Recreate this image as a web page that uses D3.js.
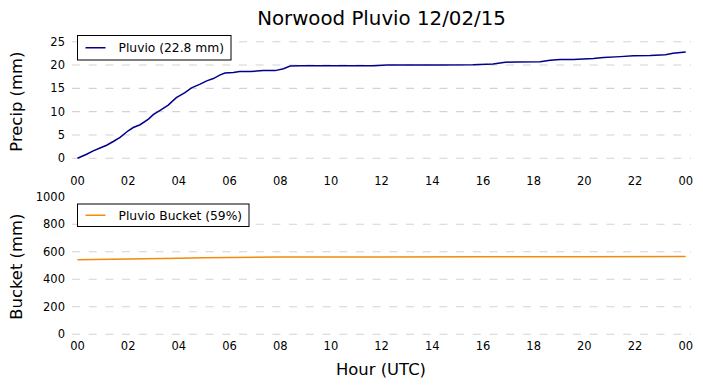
<!DOCTYPE html>
<html><head><meta charset="utf-8">
<script src="https://cdn.jsdelivr.net/npm/d3@7"></script>
<style>body{margin:0;background:#fff}svg{display:block;font-family:"DejaVu Sans",sans-serif}</style>
</head><body><div id="c"></div>
<script>
const title = "Norwood Pluvio 12/02/15";
const precipHours = [0,0.36,0.62,0.89,1.15,1.41,1.68,2.0,2.2,2.47,2.8,3.0,3.26,3.58,3.9,4.24,4.5,4.84,5.1,5.36,5.63,5.82,6.15,6.4,6.8,7.07,7.33,7.8,8.13,8.39,8.8,10.4,11.7,12.2,14.3,15.6,16.4,16.88,17.3,18.26,18.65,19.05,19.57,20.36,20.76,21.42,21.94,22.6,23.2,23.5,24.0];
const precipValues = [0,0.86,1.6,2.2,2.8,3.6,4.5,5.9,6.6,7.2,8.4,9.4,10.3,11.4,13.0,14.1,15.1,15.9,16.6,17.1,17.9,18.3,18.4,18.6,18.6,18.7,18.8,18.8,19.2,19.8,19.85,19.85,19.85,20.0,20.0,20.05,20.2,20.6,20.65,20.7,21.0,21.2,21.2,21.4,21.6,21.8,22.0,22.05,22.2,22.5,22.8];
const bucketHours = [0,2,4,5,6,8,12,16,20,24];
const bucketValues = [542,547,553,556,559,561,562,563,564,566];
const hourTicks = [0,2,4,6,8,10,12,14,16,18,20,22,24];
const precipTicks = [0,5,10,15,20,25];
const bucketTicks = [0,200,400,600,800,1000];
const precipLegend = "Pluvio (22.8 mm)";
const bucketLegend = "Pluvio Bucket (59%)";

const W=703,H=388;
const svg=d3.select("#c").append("svg").attr("width",W).attr("height",H);
const x=d3.scaleLinear().domain([0,24]).range([77.5,685.7]);
const gx0=72,gx1=691;
const fmtH=h=>String(h%24).padStart(2,"0");

function panel(y, yTicks, gridTicks, hours, vals, color, legend, legBox, xLabY, lab, labY){
  const g=svg.append("g");
  g.selectAll("line.grid").data(gridTicks).join("line")
    .attr("x1",gx0).attr("x2",gx1).attr("y1",d=>y(d)).attr("y2",d=>y(d))
    .attr("stroke","#d3d3d3").attr("stroke-width",1.1).attr("stroke-dasharray","8,8.7");
  g.selectAll("text.yt").data(yTicks).join("text")
    .attr("x",65).attr("y",d=>y(d)).attr("dy","0.36em").attr("text-anchor","end")
    .attr("font-size","11.5px").attr("fill","#000").text(d=>d);
  g.selectAll("text.xt").data(hourTicks).join("text")
    .attr("x",d=>x(d)).attr("y",xLabY).attr("text-anchor","middle")
    .attr("font-size","11.5px").attr("fill","#000").text(fmtH);
  const line=d3.line().x((d,i)=>x(hours[i])).y(d=>y(d));
  g.append("path").datum(vals).attr("d",line).attr("fill","none")
    .attr("stroke",color).attr("stroke-width",1.5);
  const [bx0,by0,bx1,by1]=legBox;
  g.append("rect").attr("x",bx0).attr("y",by0).attr("width",bx1-bx0).attr("height",by1-by0)
    .attr("fill","#fff").attr("stroke","#000").attr("stroke-width",1);
  const my=(by0+by1)/2;
  g.append("line").attr("x1",bx0+8).attr("x2",bx0+28).attr("y1",my).attr("y2",my)
    .attr("stroke",color).attr("stroke-width",1.5);
  g.append("text").attr("x",bx0+41).attr("y",my).attr("dy","0.36em")
    .attr("font-size","12.3px").text(legend);
  g.append("text").attr("transform",`translate(22,${labY}) rotate(-90)`)
    .attr("text-anchor","middle").attr("font-size","16.4px").text(lab);
}

const y1=d3.scaleLinear().domain([0,25]).range([158.3,41.7]);
panel(y1,precipTicks,precipTicks,precipHours,precipValues,"#00008b",precipLegend,[77.5,35.5,231,60],185,"Precip (mm)",101.7);
const y2=d3.scaleLinear().domain([0,1000]).range([334.3,196.7]);
panel(y2,bucketTicks,bucketTicks.slice(0,5),bucketHours,bucketValues,"#f08c0a",bucketLegend,[77.5,204,249,226.5],350.3,"Bucket (mm)",266.7);

svg.append("text").attr("x",381.5).attr("y",25).attr("text-anchor","middle")
  .attr("font-size","19.8px").text(title);
svg.append("text").attr("x",381).attr("y",375).attr("text-anchor","middle")
  .attr("font-size","16.4px").text("Hour (UTC)");
</script></body></html>
